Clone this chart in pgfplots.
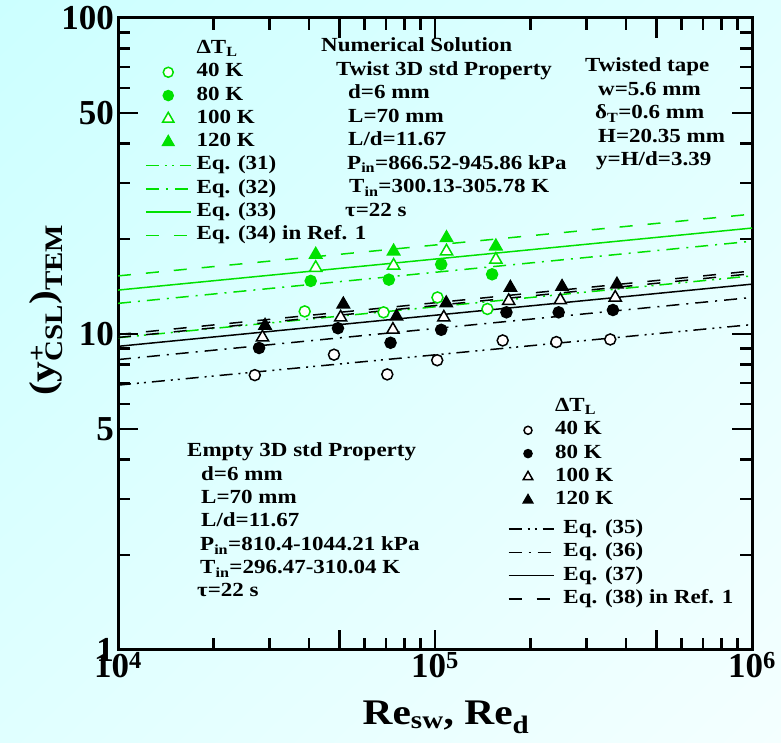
\documentclass[border=0pt]{standalone}
\usepackage{pgfplots}
\pgfplotsset{compat=1.18}
\usetikzlibrary{shadings}
\usepackage{fontspec}
\setmainfont{Liberation Serif}[FakeStretch=1.15]
\newfontfamily\tickfamily{Liberation Serif}
\definecolor{grn}{RGB}{0,225,0}
\definecolor{bgA}{RGB}{204,255,255}
\definecolor{bgB}{RGB}{224,255,255}
\definecolor{bgC}{RGB}{244,255,255}
\newcommand{\lfont}{\fontsize{20}{23}\selectfont\bfseries}
\newcommand{\mkcode}{\path[draw=none,fill=none] (0pt,-1pt) rectangle (45pt,1pt); \draw plot[only marks] coordinates {(22.5pt,0pt)};}
\newcommand{\lncode}{\path[draw=none,fill=none] (0pt,-1pt) rectangle (45pt,1pt); \draw (0pt,0pt) -- (45pt,0pt);}
\tikzset{
  dsh/.style={dash pattern=on 13pt off 15pt},
  dshdot/.style={dash pattern=on 13pt off 7pt on 2pt off 7pt},
  dshdotdot/.style={dash pattern=on 13pt off 6pt on 2pt off 5pt on 2pt off 6pt},
}
\begin{document}
\bfseries
\begin{tikzpicture}
\shade[upper left=bgA,upper right=bgB,lower left=bgB,lower right=bgC] (-118pt,-93pt) rectangle (663pt,650pt);

\begin{axis}[width=634pt,height=632pt,scale only axis,at={(0pt,0pt)},anchor=south west,
  xmode=log,ymode=log,xmin=1e4,xmax=1e6,ymin=1,ymax=100,
  axis line style={line width=3pt},
  major tick style={line width=2.5pt,black},
  minor tick style={line width=2.5pt,black},
  major tick length=20pt, minor tick length=12pt,
  tick align=inside,
  xtick={1e4,5e4,1e5,5e5,1e6},
  xticklabels={10\textsuperscript{4},{},10\textsuperscript{5},{},10\textsuperscript{6}},
  minor xtick={2e4,3e4,4e4,6e4,7e4,8e4,9e4,2e5,3e5,4e5,6e5,7e5,8e5,9e5},
  ytick={1,5,10,50,100}, yticklabels={1,5,10,50,100},
  minor ytick={2,3,4,6,7,8,9,20,30,40,60,70,80,90},
  tick label style={font=\tickfamily\fontsize{35}{37}\selectfont\bfseries},
  yticklabel style={inner sep=4pt},
  xticklabel style={inner sep=2pt},
]
% green correlation lines (Eqs. 31-34)
\addplot[draw=grn,line width=1.5pt,dshdotdot] coordinates {(1e4,9.73) (1e6,15.27)};
\addplot[draw=grn,line width=1.5pt,dshdot] coordinates {(1e4,12.50) (1e6,19.66)};
\addplot[draw=grn,line width=1.5pt] coordinates {(1e4,13.77) (1e6,21.64)};
\addplot[draw=grn,line width=1.5pt,dsh] coordinates {(1e4,15.27) (1e6,23.95)};
% black correlation lines (Eqs. 35-38)
\addplot[black,line width=1.5pt,dshdotdot] coordinates {(1e4,6.89) (1e6,10.71)};
\addplot[black,line width=1.5pt,dshdot] coordinates {(1e4,8.30) (1e6,13.05)};
\addplot[black,line width=1.5pt] coordinates {(1e4,9.14) (1e6,14.38)};
\addplot[black,line width=1.5pt,dsh] coordinates {(1e4,9.96) (1e6,15.83)};
\addplot[black,line width=1.5pt,dsh] coordinates {(1e4,9.75) (1e6,15.52)};
% black data (Empty tube)
\addplot[black,only marks,mark=*,mark size=5.5pt,mark options={fill=white,line width=1.5pt}] coordinates {
 (27010,7.41) (48010,8.60) (70700,7.45) (101600,8.26) (163500,9.54) (241400,9.43) (357100,9.61)};
\addplot[black,only marks,mark=*,mark size=5.5pt,mark options={fill=black,line width=1.5pt}] coordinates {
 (27860,9.03) (49410,10.43) (72400,9.38) (104600,10.31) (168000,11.71) (245500,11.71) (364100,11.91)};
\addplot[black,only marks,mark=triangle*,mark size=7pt,mark options={fill=white,line width=1.5pt}] coordinates {
 (28560,9.76) (50390,11.28) (73650,10.32) (106600,11.28) (170800,12.73) (248500,12.79) (370300,13.04)};
\addplot[black,only marks,mark=triangle*,mark size=7pt,mark options={fill=black,line width=1.5pt}] coordinates {
 (29100,10.63) (51380,12.42) (75620,11.36) (108500,12.52) (172900,14.02) (251600,14.11) (374900,14.35)};
% green data (Twisted tape)
\addplot[grn,only marks,mark=*,mark size=5.5pt,mark options={fill=white,line width=1.5pt}] coordinates {
 (38810,11.79) (68820,11.71) (101800,13.05) (146300,12.00)};
\addplot[grn,only marks,mark=*,mark size=5.5pt,mark options={fill=grn,line width=1.5pt}] coordinates {
 (40540,14.72) (71520,14.86) (104600,16.61) (151400,15.45)};
\addplot[grn,only marks,mark=triangle*,mark size=7pt,mark options={fill=white,line width=1.5pt}] coordinates {
 (42040,16.20) (74030,16.47) (108700,18.27) (155600,17.20)};
\addplot[grn,only marks,mark=triangle*,mark size=7pt,mark options={fill=grn,line width=1.5pt}] coordinates {
 (42040,17.84) (74030,18.27) (108700,20.13) (155600,18.95)};
\end{axis}

% legend: twisted tape (green)
\begin{axis}[width=634pt,height=632pt,scale only axis,at={(0pt,0pt)},anchor=south west,
  xmin=0,xmax=1,ymin=0,ymax=1,hide axis,legend cell align=left,
  legend style={draw=none,fill=none,inner sep=0pt,outer sep=0pt,font=\lfont,row sep=2.3pt,column sep=5pt,
    nodes={text height=15pt,text depth=6pt,inner sep=0pt},anchor=north west,at={(0.0426,0.9676)}}]
\addlegendimage{empty legend}\addlegendentry{ΔT\textsubscript{L}}
\addlegendimage{grn,mark=*,mark size=5pt,mark options={draw=grn,fill=white,line width=1.5pt},legend image code/.code={\mkcode}}\addlegendentry{40 K}
\addlegendimage{grn,mark=*,mark size=5pt,mark options={draw=grn,fill=grn,line width=1.5pt},legend image code/.code={\mkcode}}\addlegendentry{80 K}
\addlegendimage{grn,mark=triangle*,mark size=6.5pt,mark options={draw=grn,fill=white,line width=1.5pt},legend image code/.code={\mkcode}}\addlegendentry{100 K}
\addlegendimage{grn,mark=triangle*,mark size=6.5pt,mark options={draw=grn,fill=grn,line width=1.5pt},legend image code/.code={\mkcode}}\addlegendentry{120 K}
\addlegendimage{draw=grn,line width=1.5pt,dshdotdot,legend image code/.code={\lncode}}\addlegendentry{Eq. (31)}
\addlegendimage{draw=grn,line width=1.5pt,dshdot,legend image code/.code={\lncode}}\addlegendentry{Eq. (32)}
\addlegendimage{draw=grn,line width=1.5pt,legend image code/.code={\lncode}}\addlegendentry{Eq. (33)}
\addlegendimage{draw=grn,line width=1.5pt,dsh,legend image code/.code={\lncode}}\addlegendentry{Eq. (34) in Ref. 1}
\end{axis}

% legend: empty tube markers (black)
\begin{axis}[width=634pt,height=632pt,scale only axis,at={(0pt,0pt)},anchor=south west,
  xmin=0,xmax=1,ymin=0,ymax=1,hide axis,legend cell align=left,
  legend style={draw=none,fill=none,inner sep=0pt,outer sep=0pt,font=\lfont,row sep=2.3pt,column sep=4.5pt,
    nodes={text height=15pt,text depth=6pt,inner sep=0pt},anchor=north west,at={(0.6112,0.4011)}}]
\addlegendimage{empty legend}\addlegendentry{ΔT\textsubscript{L}}
\addlegendimage{black,mark=*,mark size=4pt,mark options={fill=white,line width=1.5pt},legend image code/.code={\mkcode}}\addlegendentry{40 K}
\addlegendimage{black,mark=*,mark size=4pt,mark options={fill=black,line width=1.5pt},legend image code/.code={\mkcode}}\addlegendentry{80 K}
\addlegendimage{black,mark=triangle*,mark size=5.5pt,mark options={fill=white,line width=1.5pt},legend image code/.code={\mkcode}}\addlegendentry{100 K}
\addlegendimage{black,mark=triangle*,mark size=5.5pt,mark options={fill=black,line width=1.5pt},legend image code/.code={\mkcode}}\addlegendentry{120 K}
\end{axis}

% legend: empty tube lines (black)
\begin{axis}[width=634pt,height=632pt,scale only axis,at={(0pt,0pt)},anchor=south west,
  xmin=0,xmax=1,ymin=0,ymax=1,hide axis,legend cell align=left,
  legend style={draw=none,fill=none,inner sep=0pt,outer sep=0pt,font=\lfont,row sep=2.3pt,column sep=9pt,
    nodes={text height=15pt,text depth=6pt,inner sep=0pt},anchor=north west,at={(0.6151,0.2081)}}]
\addlegendimage{draw=black,line width=1.5pt,dshdotdot,legend image code/.code={\lncode}}\addlegendentry{Eq. (35)}
\addlegendimage{draw=black,line width=1.5pt,dshdot,legend image code/.code={\lncode}}\addlegendentry{Eq. (36)}
\addlegendimage{draw=black,line width=1.5pt,legend image code/.code={\lncode}}\addlegendentry{Eq. (37)}
\addlegendimage{draw=black,line width=1.5pt,dsh,legend image code/.code={\lncode}}\addlegendentry{Eq. (38) in Ref. 1}
\end{axis}

\begin{scope}[x=1pt,y=-1pt,shift={(-118pt,650pt)},every node/.style={anchor=base west,inner sep=0pt,font=\lfont}]
\node at (321,52) {Numerical Solution};
\node at (336,75.5) {Twist 3D std Property};
\node at (348,99) {d=6 mm};
\node at (348,122.5) {L=70 mm};
\node at (348,146) {L/d=11.67};
\node at (347,169.5) {P\textsubscript{in}=866.52-945.86 kPa};
\node at (349,193) {T\textsubscript{in}=300.13-305.78 K};
\node at (345,216.5) {τ=22 s};

\node at (585,72) {Twisted tape};
\node at (598,95.5) {w=5.6 mm};
\node at (595,119) {δ\textsubscript{T}=0.6 mm};
\node at (598,142.5) {H=20.35 mm};
\node at (596,166) {y=H/d=3.39};

\node at (187,457) {Empty 3D std Property};
\node at (201,481) {d=6 mm};
\node at (201,504) {L=70 mm};
\node at (201,527) {L/d=11.67};
\node at (200,551) {P\textsubscript{in}=810.4-1044.21 kPa};
\node at (200,574) {T\textsubscript{in}=296.47-310.04 K};
\node at (197,597) {τ=22 s};

\node[anchor=base,font=\fontsize{36}{40}\selectfont\bfseries] at (446,725) {Re\textsubscript{sw}, Re\textsubscript{d}};
\node[anchor=center,rotate=90,font=\fontsize{36}{40}\selectfont\bfseries] at (46,310) {(y\rlap{\textsuperscript{+}}\textsubscript{CSL})\textsubscript{TEM}};
\end{scope}

\pgfresetboundingbox
\path[use as bounding box] (-118pt,-93pt) rectangle (663pt,650pt);
\end{tikzpicture}
\end{document}
